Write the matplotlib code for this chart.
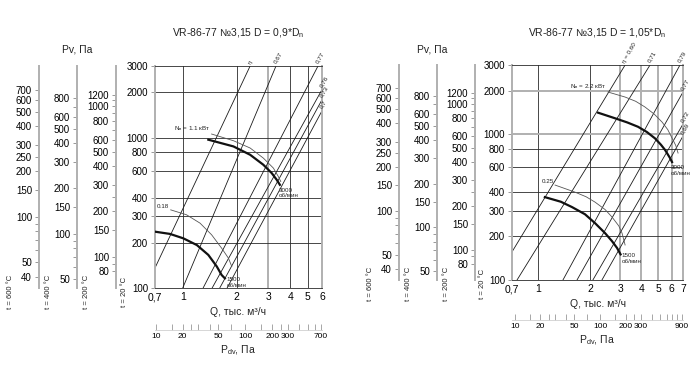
import matplotlib
matplotlib.use('Agg')
import matplotlib.pyplot as plt
from matplotlib.ticker import NullLocator

plt.rcParams['font.family'] = ['Liberation Sans', 'DejaVu Sans']
plt.rcParams['mathtext.fontset'] = 'custom'
plt.rcParams['mathtext.rm'] = 'Liberation Sans'
plt.rcParams['text.color'] = '#222222'

W, H = 700, 382

# side scales: Pv for hot gas, density ratio 293/(273+t)
temps = [600, 400, 200]
side_major = {
    600: [700, 600, 500, 400, 300, 250, 200, 150, 100, 50, 40],
    400: [800, 600, 500, 400, 300, 200, 150, 100, 50],
    200: [1200, 1000, 800, 600, 500, 400, 300, 200, 150, 100, 80],
}
side_minor = {
    600: [90, 80, 70, 60],
    400: [700, 90, 80, 70, 60],
    200: [1100, 900, 700, 250, 90],
}
p_ticks = [3000, 2000, 1000, 800, 600, 400, 300, 200, 100]

# ---- left chart, D = 0.9*Dn
l_title = r'VR-86-77 №3,15 D = 0,9*D$_\mathrm{n}$'
l_q_ticks = [0.7, 1, 2, 3, 4, 5, 6]
l_q_labels = ['0,7', '1', '2', '3', '4', '5', '6']
l_eff_names = ['η', '0,67', '0,77', '0,76', '0,73', '0,7']
l_eff_q0 = [0.7, 1.00, 1.30, 1.46, 1.61, 1.77]
l_eff_p0 = [136, 100, 100, 100, 100, 100]
l_eff_q1 = [2.38, 3.32, 5.70, 6.0, 6.0, 6.0]
l_eff_p1 = [3000, 3000, 3000, 2090, 1790, 1510]
l_hi_q = [1.39, 1.92, 2.38, 2.82, 3.14, 3.35, 3.49]
l_hi_p = [970, 875, 770, 661, 582, 525, 486]
l_hi_nq = [1.45, 1.92, 2.38, 2.82, 3.21, 3.42, 3.53]
l_hi_np = [1058, 955, 854, 732, 628, 552, 511]
l_lo_q = [0.7, 0.849, 1.008, 1.20, 1.39, 1.55, 1.65, 1.72]
l_lo_p = [237, 229, 214, 193, 166, 139, 122, 116]
l_lo_nq = [0.857, 1.05, 1.25, 1.45, 1.65, 1.80, 1.88]
l_lo_np = [331, 307, 270, 226, 184, 158, 139]
l_n_hi = r'N$_\mathrm{в}$ = 1.1 кВт'
l_n_lo = '0.18'
l_pdv_k = 20.0
l_pdv_ticks = [10, 15, 20, 25, 30, 40, 50, 70, 100, 150, 200, 250, 300, 400, 500, 600, 700]
l_pdv_labels = [10, 20, 50, 100, 200, 300, 700]

# ---- right chart, D = 1.05*Dn
r_title = r'VR-86-77 №3,15 D = 1,05*D$_\mathrm{n}$'
r_q_ticks = [0.7, 1, 2, 3, 4, 5, 6, 7]
r_q_labels = ['0,7', '1', '2', '3', '4', '5', '6', '7']
r_eff_names = ['η = 0,60', '0,71', '0,79', '0,77', '0,72', '0,69']
r_eff_q0 = [0.7, 0.749, 1.39, 1.68, 2.08, 2.35]
r_eff_p0 = [156, 100, 100, 100, 100, 100]
r_eff_q1 = [3.21, 4.49, 6.72, 7.0, 7.0, 7.0]
r_eff_p1 = [3000, 3000, 3000, 1955, 1179, 975]
r_hi_q = [2.23, 2.80, 3.30, 3.82, 4.30, 4.80, 5.20, 5.50, 5.88, 6.04]
r_hi_p = [1411, 1292, 1210, 1129, 1040, 940, 850, 782, 688, 646]
r_hi_nq = [2.55, 3.21, 3.70, 4.19, 4.75, 5.28, 5.70, 6.04, 6.35, 6.55]
r_hi_np = [1956, 1807, 1690, 1545, 1380, 1216, 1080, 944, 840, 745]
r_lo_q = [1.09, 1.35, 1.57, 1.87, 2.14, 2.45, 2.69, 2.88, 3.02]
r_lo_p = [371, 345, 317, 283, 246, 210, 185, 166, 150]
r_lo_nq = [1.25, 1.63, 1.90, 2.14, 2.45, 2.69, 2.95, 3.08, 3.21]
r_lo_np = [449, 402, 373, 343, 305, 271, 235, 210, 174]
r_n_hi = r'N$_\mathrm{в}$ = 2.2 кВт'
r_n_lo = '0.25'
r_pdv_k = 19.0
r_pdv_ticks = [10, 15, 20, 25, 30, 40, 50, 70, 100, 150, 200, 250, 300, 400,
               500, 600, 700, 800, 900]
r_pdv_labels = [10, 20, 50, 100, 200, 300, 900]

LIGHT = '#b0b0b0'
DARK = '#2a2a2a'


def frac(x, y):
    return x / W, 1 - y / H


def draw_panel(fig, box, side_x, title, q_ticks, q_labels, light_q, light_p,
               eff_names, eff_q0, eff_p0, eff_q1, eff_p1,
               hi_q, hi_p, hi_nq, hi_np, lo_q, lo_p, lo_nq, lo_np,
               n_hi, n_lo, pdv_k, pdv_ticks, pdv_labels, pdv_y, t20_x, pv_x):
    x0, y0, x1, y1 = box
    rect = [x0 / W, 1 - y1 / H, (x1 - x0) / W, (y1 - y0) / H]
    ax = fig.add_axes(rect)
    ax.set_xscale('log')
    ax.set_yscale('log')
    ax.set_xlim(q_ticks[0], q_ticks[-1])
    ax.set_ylim(100, 3000)
    ax.set_xticks(q_ticks, labels=q_labels)
    ax.set_yticks(p_ticks, labels=[str(p) for p in p_ticks])
    ax.xaxis.set_minor_locator(NullLocator())
    ax.yaxis.set_minor_locator(NullLocator())
    ax.tick_params(axis='x', length=0, pad=3, labelsize=7.5)
    ax.tick_params(axis='y', length=3, width=0.6, color='#888', pad=2, labelsize=7)

    for q in q_ticks[1:-1]:
        if q in light_q:
            ax.axvline(q, color=LIGHT, lw=1.4, zorder=1)
        else:
            ax.axvline(q, color=DARK, lw=0.6, zorder=1)
    for p in p_ticks[1:-1]:
        if p in light_p:
            ax.axhline(p, color=LIGHT, lw=1.4, zorder=1)
        else:
            ax.axhline(p, color=DARK, lw=0.6, zorder=1)
    for side in ['left', 'right']:
        ax.spines[side].set_color(LIGHT)
        ax.spines[side].set_linewidth(1.4)
    for side in ['top', 'bottom']:
        ax.spines[side].set_color(DARK)
        ax.spines[side].set_linewidth(0.6)

    # efficiency rays
    for name, qa, pa, qb, pb in zip(eff_names, eff_q0, eff_p0, eff_q1, eff_p1):
        ax.plot([qa, qb], [pa, pb], color='#1a1a1a', lw=0.6, zorder=2)
        ax.annotate(name, (qb, pb), xytext=(1, 1), textcoords='offset points',
                    rotation=60, rotation_mode='anchor', ha='left', va='bottom',
                    fontsize=4.5, annotation_clip=False)

    # pressure curves and power curves
    ax.plot(hi_nq, hi_np, color='#555', lw=0.6, zorder=3)
    ax.plot(lo_nq, lo_np, color='#555', lw=0.6, zorder=3)
    ax.plot(hi_q, hi_p, color='#111', lw=1.6, zorder=4)
    ax.plot(lo_q, lo_p, color='#111', lw=1.6, zorder=4)
    ax.annotate(n_hi, (hi_nq[0], hi_np[0]), xytext=(-1, 0.5), textcoords='offset points',
                ha='right', va='bottom', fontsize=4.5)
    ax.annotate(n_lo, (lo_nq[0], lo_np[0]), xytext=(-1, 0.5), textcoords='offset points',
                ha='right', va='bottom', fontsize=4.5)
    ax.annotate('3000\nоб/мин', (hi_q[-1], hi_p[-1]), xytext=(-1, -2),
                textcoords='offset points', ha='left', va='top', fontsize=4.5,
                linespacing=1.2)
    ax.annotate('1500\nоб/мин', (lo_q[-1], lo_p[-1]), xytext=(1, 1),
                textcoords='offset points', ha='left', va='top', fontsize=4.5,
                linespacing=1.2)

    # hot-gas Pv scales
    for t, sx in zip(temps, side_x):
        f = 293.0 / (273 + t)
        sax = fig.add_axes([sx / W, rect[1], 1e-4, rect[3]])
        sax.set_yscale('log')
        sax.set_ylim(100 * f, 3000 * f)
        ticks = side_major[t] + side_minor[t]
        labels = [str(v) for v in side_major[t]] + [''] * len(side_minor[t])
        sax.set_yticks(ticks, labels=labels)
        sax.yaxis.set_minor_locator(NullLocator())
        sax.tick_params(axis='y', length=3, width=0.6, color='#888', pad=2, labelsize=7)
        sax.set_xticks([])
        for side in ['top', 'bottom', 'right']:
            sax.spines[side].set_visible(False)
        sax.spines['left'].set_color(LIGHT)
        sax.spines['left'].set_linewidth(1.4)
        sax.patch.set_visible(False)
        tx, ty = frac(sx - 29, y1 + 4)
        fig.text(tx, ty, 't = %d °C' % t, rotation=90, ha='center', va='center',
                 fontsize=5.5)
    tx, ty = frac(t20_x, y1 + 4)
    fig.text(tx, ty, 't = 20 °C', rotation=90, ha='center', va='center', fontsize=5.5)

    # dynamic pressure scale
    pax = fig.add_axes([x0 / W, 1 - pdv_y / H, (x1 - x0) / W, 1e-4])
    pax.set_xscale('log')
    pax.set_xlim(pdv_k * q_ticks[0] ** 2, pdv_k * q_ticks[-1] ** 2)
    pax.set_xticks(pdv_ticks, labels=[str(v) if v in pdv_labels else '' for v in pdv_ticks])
    pax.xaxis.set_minor_locator(NullLocator())
    pax.tick_params(axis='x', direction='in', length=4, width=0.6, color='#999',
                    pad=2, labelsize=6)
    pax.set_yticks([])
    for side in ['top', 'left', 'right']:
        pax.spines[side].set_visible(False)
    pax.spines['bottom'].set_color('#d0d0d0')
    pax.spines['bottom'].set_linewidth(0.6)
    pax.patch.set_visible(False)

    cx = (x0 + x1) / 2
    fig.text(*frac(cx, y1 + 24), 'Q, тыс. м³/ч', ha='center', va='center', fontsize=7.5)
    fig.text(*frac(cx, pdv_y + 20), r'P$_\mathrm{dv}$, Па', ha='center', va='center',
             fontsize=7.5)
    fig.text(*frac(cx, 33), title, ha='center', va='center', fontsize=7.5)
    fig.text(*frac(pv_x, 50), 'Pv, Па', ha='center', va='center', fontsize=7.5)


fig = plt.figure(figsize=(7, 3.82), dpi=100)

draw_panel(fig, (155, 66, 322, 288), [39, 77, 116], l_title, l_q_ticks, l_q_labels,
           [3], [], l_eff_names, l_eff_q0, l_eff_p0, l_eff_q1, l_eff_p1,
           l_hi_q, l_hi_p, l_hi_nq, l_hi_np, l_lo_q, l_lo_p, l_lo_nq, l_lo_np,
           l_n_hi, l_n_lo, l_pdv_k, l_pdv_ticks, l_pdv_labels, 330, 125, 77)

draw_panel(fig, (512, 65, 683, 280), [399, 437, 475], r_title, r_q_ticks, r_q_labels,
           [3, 4, 5, 6], [2000, 1000], r_eff_names, r_eff_q0, r_eff_p0, r_eff_q1, r_eff_p1,
           r_hi_q, r_hi_p, r_hi_nq, r_hi_np, r_lo_q, r_lo_p, r_lo_nq, r_lo_np,
           r_n_hi, r_n_lo, r_pdv_k, r_pdv_ticks, r_pdv_labels, 320, 483, 432)

fig.savefig('out.png', dpi=100)
